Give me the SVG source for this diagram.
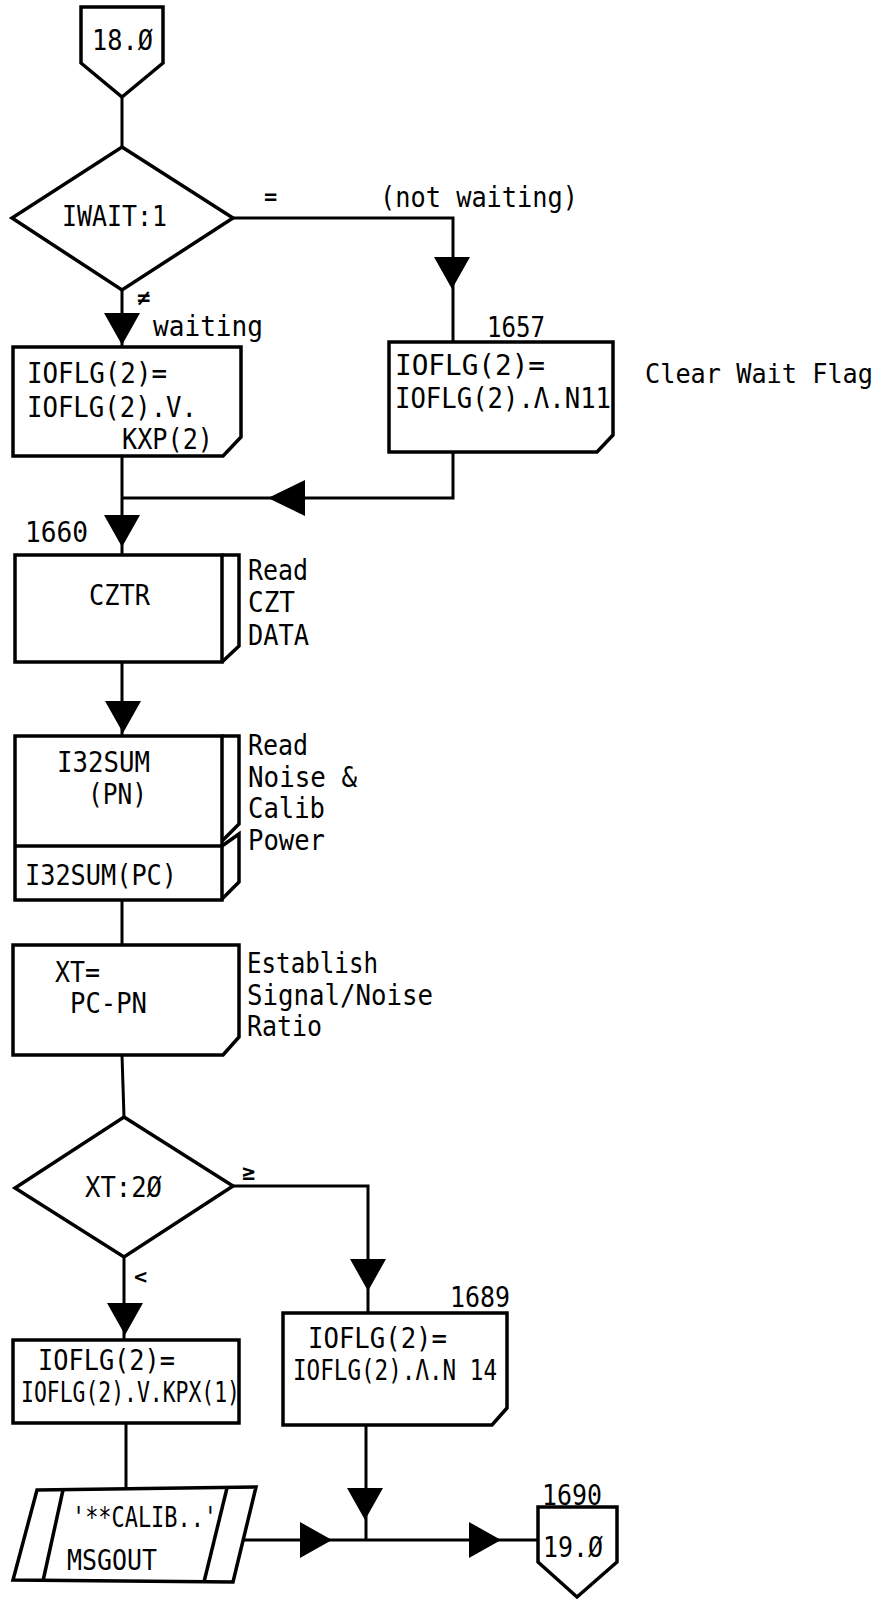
<svg xmlns="http://www.w3.org/2000/svg" xmlns:xlink="http://www.w3.org/1999/xlink" width="885" height="1600" viewBox="0 0 885 1600">
<style>
.s{fill:#fff;stroke:#000;stroke-width:3.5;stroke-linejoin:miter}
.o{fill:none;stroke:#000;stroke-width:3.5}
.l{fill:none;stroke:#000;stroke-width:3}
.t{font-family:"DejaVu Sans Mono","Liberation Mono",monospace;font-size:28px;fill:#000}
.sm{font-family:"DejaVu Sans Mono","Liberation Mono",monospace;font-size:22px;font-weight:bold;fill:#000}
.ah{fill:#000}
</style>
<defs>
<polygon id="ad" points="-18,0 18,0 0,32"/>
<polygon id="ar" points="0,-18 0,18 32,0"/>
<polygon id="al" points="0,-18 0,18 -37,0"/>
</defs>
<rect width="885" height="1600" fill="#fff"/>

<g id="connectors">
<polyline class="l" points="122,97 122,147"/>
<polyline class="l" points="233,218 453,218 453,342"/>
<polyline class="l" points="122,290 122,347"/>
<polyline class="l" points="122,456 122,555"/>
<polyline class="l" points="453,452 453,498 122,498"/>
<polyline class="l" points="122,662 122,736"/>
<polyline class="l" points="122,900 122,945"/>
<polyline class="l" points="122,1055 124,1117"/>
<polyline class="l" points="233,1186 368,1186 368,1313"/>
<polyline class="l" points="124,1257 124,1340"/>
<polyline class="l" points="126,1423 126,1488"/>
<polyline class="l" points="366,1425 366,1540"/>
<polyline class="l" points="244,1540 538,1540"/>
<use href="#ad" class="ah" transform="translate(452,257)"/>
<use href="#ad" class="ah" transform="translate(122,313)"/>
<use href="#al" class="ah" transform="translate(305,498)"/>
<use href="#ad" class="ah" transform="translate(122,515)"/>
<use href="#ad" class="ah" transform="translate(123,701)"/>
<use href="#ad" class="ah" transform="translate(368,1259)"/>
<use href="#ad" class="ah" transform="translate(125,1303)"/>
<use href="#ad" class="ah" transform="translate(365,1488)"/>
<use href="#ar" class="ah" transform="translate(300,1540)"/>
<use href="#ar" class="ah" transform="translate(469,1540)"/>
<text class="sm" x="264" y="204">=</text>
<text class="t" x="380" y="207" textLength="198" lengthAdjust="spacingAndGlyphs">(not waiting)</text>
<text class="sm" x="137" y="305">≠</text>
<text class="t" x="153" y="336" textLength="110" lengthAdjust="spacingAndGlyphs">waiting</text>
<text class="sm" x="242" y="1180">≥</text>
<text class="sm" x="134" y="1284">&lt;</text>
</g>

<g id="n-1800">
<polygon class="s" points="81,7 163,7 163,63 122,97 81,63"/>
<text class="t" x="92" y="50" textLength="61" lengthAdjust="spacingAndGlyphs">18.Ø</text>
</g>

<g id="n-iwait">
<polygon class="s" points="122,147 233,218 122,290 12,218"/>
<text class="t" x="62" y="226" textLength="105" lengthAdjust="spacingAndGlyphs">IWAIT:1</text>
</g>

<g id="n-setwait">
<path class="s" d="M13,347 H241 V437 L223,456 H13 Z"/>
<text class="t" x="27" y="383" textLength="140" lengthAdjust="spacingAndGlyphs">IOFLG(2)=</text>
<text class="t" x="27" y="417" textLength="170" lengthAdjust="spacingAndGlyphs">IOFLG(2).V.</text>
<text class="t" x="122" y="449" textLength="91" lengthAdjust="spacingAndGlyphs">KXP(2)</text>
</g>

<g id="n-1657">
<path class="s" d="M389,342 H613 V435 L597,452 H389 Z"/>
<text class="t" x="487" y="337" textLength="58" lengthAdjust="spacingAndGlyphs">1657</text>
<text class="t" x="395" y="375" textLength="150" lengthAdjust="spacingAndGlyphs">IOFLG(2)=</text>
<text class="t" x="395" y="408" textLength="216" lengthAdjust="spacingAndGlyphs">IOFLG(2).Λ.N11</text>
<text class="t" x="645" y="383" style="font-size:26px" textLength="228" lengthAdjust="spacingAndGlyphs">Clear Wait Flag</text>
</g>

<g id="n-1660">
<rect class="s" x="15" y="555" width="207" height="107"/>
<path class="o" d="M222,555 H239 V646 L222,662"/>
<text class="t" x="25" y="542" textLength="63" lengthAdjust="spacingAndGlyphs">1660</text>
<text class="t" x="89" y="605" textLength="61" lengthAdjust="spacingAndGlyphs">CZTR</text>
<text class="t" x="248" y="580" textLength="60" lengthAdjust="spacingAndGlyphs">Read</text>
<text class="t" x="248" y="612" textLength="47" lengthAdjust="spacingAndGlyphs">CZT</text>
<text class="t" x="248" y="645" textLength="61" lengthAdjust="spacingAndGlyphs">DATA</text>
</g>

<g id="n-i32sum">
<rect class="s" x="15" y="736" width="207" height="164"/>
<line class="o" x1="15" y1="846" x2="222" y2="846"/>
<path class="o" d="M222,736 H239 V824 L222,841"/>
<path class="o" d="M222,846 L239,834 V882 L222,899"/>
<text class="t" x="57" y="772" textLength="93" lengthAdjust="spacingAndGlyphs">I32SUM</text>
<text class="t" x="88" y="804" textLength="59" lengthAdjust="spacingAndGlyphs">(PN)</text>
<text class="t" x="25" y="885" textLength="152" lengthAdjust="spacingAndGlyphs">I32SUM(PC)</text>
<text class="t" x="248" y="755" textLength="60" lengthAdjust="spacingAndGlyphs">Read</text>
<text class="t" x="248" y="787" textLength="109" lengthAdjust="spacingAndGlyphs">Noise &amp;</text>
<text class="t" x="248" y="818" textLength="77" lengthAdjust="spacingAndGlyphs">Calib</text>
<text class="t" x="248" y="850" textLength="77" lengthAdjust="spacingAndGlyphs">Power</text>
</g>

<g id="n-xt">
<path class="s" d="M13,945 H239 V1037 L223,1055 H13 Z"/>
<text class="t" x="55" y="982" textLength="45" lengthAdjust="spacingAndGlyphs">XT=</text>
<text class="t" x="70" y="1013" textLength="77" lengthAdjust="spacingAndGlyphs">PC-PN</text>
<text class="t" x="247" y="973" textLength="131" lengthAdjust="spacingAndGlyphs">Establish</text>
<text class="t" x="247" y="1005" textLength="186" lengthAdjust="spacingAndGlyphs">Signal/Noise</text>
<text class="t" x="247" y="1036" textLength="75" lengthAdjust="spacingAndGlyphs">Ratio</text>
</g>

<g id="n-xt20">
<polygon class="s" points="124,1117 233,1186 124,1257 15,1188"/>
<text class="t" x="85" y="1197" textLength="77" lengthAdjust="spacingAndGlyphs">XT:2Ø</text>
</g>

<g id="n-setcalib">
<rect class="s" x="13" y="1340" width="226" height="83"/>
<text class="t" x="38" y="1370" textLength="137" lengthAdjust="spacingAndGlyphs">IOFLG(2)=</text>
<text class="t" x="21" y="1402" textLength="219" lengthAdjust="spacingAndGlyphs">IOFLG(2).V.KPX(1)</text>
</g>

<g id="n-1689">
<path class="s" d="M283,1313 H507 V1408 L492,1425 H283 Z"/>
<text class="t" x="450" y="1307" textLength="60" lengthAdjust="spacingAndGlyphs">1689</text>
<text class="t" x="308" y="1348" textLength="139" lengthAdjust="spacingAndGlyphs">IOFLG(2)=</text>
<text class="t" x="293" y="1380" textLength="204" lengthAdjust="spacingAndGlyphs">IOFLG(2).Λ.N 14</text>
</g>

<g id="n-msgout">
<polygon class="s" points="37,1490 256,1487 233,1582 13,1580"/>
<line class="o" x1="63" y1="1490" x2="43" y2="1581"/>
<line class="o" x1="227" y1="1488" x2="204" y2="1582"/>
<text class="t" x="72" y="1527" textLength="145" lengthAdjust="spacingAndGlyphs">'**CALIB..'</text>
<text class="t" x="67" y="1570" textLength="90" lengthAdjust="spacingAndGlyphs">MSGOUT</text>
</g>

<g id="n-1900">
<polygon class="s" points="538,1507 617,1507 617,1562 577,1597 538,1562"/>
<text class="t" x="542" y="1505" textLength="60" lengthAdjust="spacingAndGlyphs">1690</text>
<text class="t" x="543" y="1557" textLength="60" lengthAdjust="spacingAndGlyphs">19.Ø</text>
</g>
</svg>
